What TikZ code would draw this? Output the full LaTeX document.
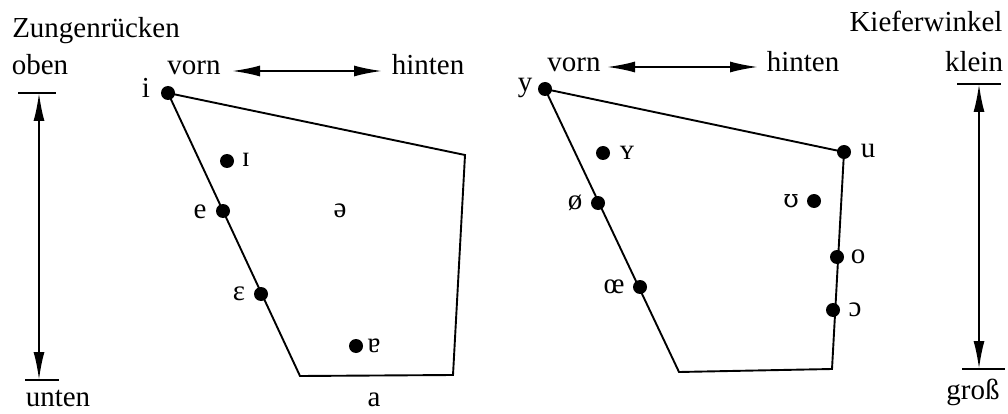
\documentclass[tikz,border=0pt]{standalone}
\usepackage{fontspec}
\setmainfont{Liberation Serif}
\newfontfamily\ipafont{DejaVu Serif}
\usetikzlibrary{arrows.meta}
\begin{document}
\begin{tikzpicture}[x=1pt,y=-1pt,
  every node/.style={font=\fontsize{29}{32}\selectfont, inner sep=0pt},
  lbl/.style={anchor=base},
  dot/.style={circle, fill=black, minimum size=14pt, inner sep=0pt},
  edge/.style={line width=1.9pt, line join=miter},
  arr/.style={line width=1.9pt, {Latex[length=28pt,width=11pt]}-{Latex[length=28pt,width=11pt]}},
  bar/.style={line width=2.4pt}
]
\useasboundingbox (0,0) rectangle (1008,414);

% ---------- left chart ----------
\node[lbl] (zung) at (96,38) {Zungenrücken};
\node[lbl] (oben) at (40,75) {oben};
\node[lbl] (unten) at (58,406) {unten};
\coordinate (lbt1) at (18,93);  \coordinate (lbt2) at (56,93);
\coordinate (lbb1) at (25,380); \coordinate (lbb2) at (59,380);
\coordinate (lat) at (39,93);   \coordinate (lab) at (39,380);
\draw[bar] (lbt1) -- (lbt2);
\draw[bar] (lbb1) -- (lbb2);
\draw[arr] (lat) -- (lab);

\node[lbl] (vornL) at (194,75) {vorn};
\node[lbl] (hintenL) at (428,75) {hinten};
\coordinate (ha1) at (232,71); \coordinate (ha2) at (382,71);
\draw[arr] (ha1) -- (ha2);

\node[dot] (i) at (168,93) {};
\coordinate (ltr) at (465,155);
\coordinate (lbr) at (453,375);
\coordinate (lbl) at (300,376);
\draw[edge] (i.center) -- (ltr) -- (lbr) -- (lbl) -- cycle;

\node[dot] (I) at (227,161) {};
\node[dot] (e) at (223,211) {};
\node[dot] (eps) at (261,294) {};
\node[dot] (turna) at (356,346) {};

\node[lbl] (ti) at (146,98) {i};
\node[lbl] (tI) at (246,167) {ɪ};
\node[lbl] (te) at (200,218) {e};
\node[lbl] (tschwa) at (340,217) {ə};
\node[lbl] (teps) at (239,300) {ɛ};
\node[lbl] (tturna) at (374,352) {ɐ};
\node[lbl] (ta) at (374,406) {a};

% ---------- right chart ----------
\node[lbl] (vornR) at (574,72) {vorn};
\node[lbl] (hintenR) at (803,72) {hinten};
\coordinate (hb1) at (607,67); \coordinate (hb2) at (758,67);
\draw[arr] (hb1) -- (hb2);

\node[dot] (y) at (545,89) {};
\node[dot] (u) at (844,152) {};
\coordinate (rbr) at (832,369);
\coordinate (rbl) at (679,372);
\draw[edge] (y.center) -- (u.center) -- (rbr) -- (rbl) -- cycle;

\node[dot] (Y) at (603,153) {};
\node[dot] (oslash) at (598,203) {};
\node[dot] (U) at (814,201) {};
\node[dot] (o) at (837,257) {};
\node[dot] (oe) at (640,287) {};
\node[dot] (openo) at (833,310) {};

\node[lbl] (ty) at (525,92) {y};
\node[lbl] (tu) at (868,158) {u};
\node[lbl] (tY) at (627,160) {ʏ};
\node[lbl] (toslash) at (575,209) {ø};
\node[lbl] (tU) at (791,207) {\ipafont\fontsize{25}{28}\selectfont ʊ};
\node[lbl] (to) at (858,263) {o};
\node[lbl] (toe) at (614,293) {œ};
\node[lbl] (topeno) at (855,316) {ɔ};

\node[lbl] (kiefer) at (926,32) {Kieferwinkel};
\node[lbl] (klein) at (974,72) {klein};
\node[lbl] (gross) at (973,399) {groß};
\coordinate (rbt1) at (957,84);  \coordinate (rbt2) at (1001,84);
\coordinate (rbb1) at (962,369); \coordinate (rbb2) at (1005,369);
\coordinate (rat) at (979,84);   \coordinate (rab) at (979,369);
\draw[bar] (rbt1) -- (rbt2);
\draw[bar] (rbb1) -- (rbb2);
\draw[arr] (rat) -- (rab);
\end{tikzpicture}
\end{document}
